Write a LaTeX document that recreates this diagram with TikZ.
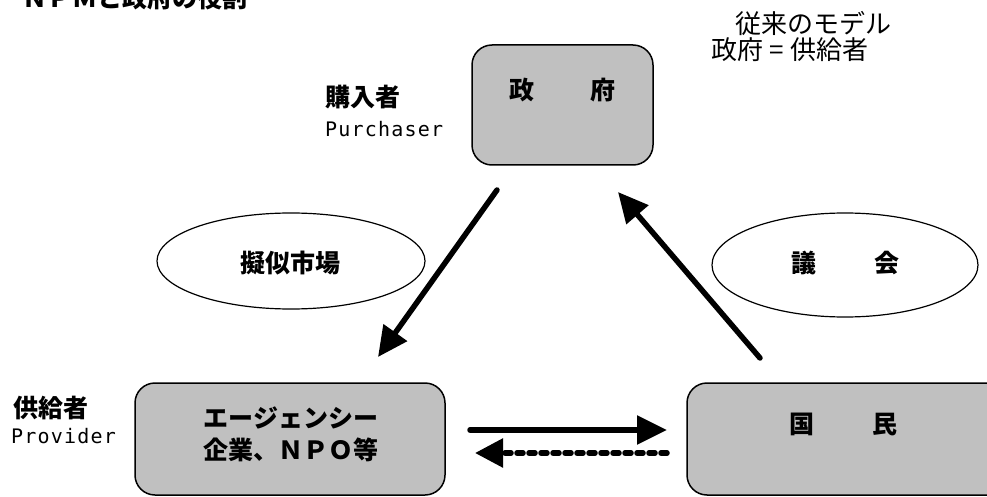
\documentclass[tikz,border=0pt]{standalone}
\usepackage{fontspec}
\usetikzlibrary{arrows.meta,shapes.geometric}
\newfontfamily\jp{Noto Sans CJK JP}
\newfontfamily\lat{DejaVu Sans Mono}[LetterSpace=6]
\definecolor{boxgray}{HTML}{C0C0C0}
\tikzset{
  jpb/.style={font=\jp\bfseries\fontsize{25}{32}\selectfont, inner sep=0pt},
  jpr/.style={font=\jp\fontsize{26}{32}\selectfont, inner sep=0pt},
  latin/.style={font=\lat\fontsize{20}{24}\selectfont, inner sep=0pt},
  actor/.style={draw=black, line width=1.5pt, fill=boxgray, rounded corners=20pt, rectangle, inner sep=0pt},
  oval/.style={draw=black, line width=1.2pt, ellipse, inner sep=0pt},
  bigarrow/.style={line width=5.5pt, line cap=round, -{Triangle[length=30pt,width=28pt]}},
  dasharrow/.style={line width=5.5pt, line cap=round, dash pattern=on 6pt off 6pt, -{Triangle[length=28pt,width=28pt]}}
}
\begin{document}
\begin{tikzpicture}[x=1pt,y=-1pt]
\useasboundingbox (0,0) rectangle (987,497);
\clip (0,0) rectangle (987,497);
% title
\node[jpb, anchor=west] (title) at (22,-2) {ＮＰＭと政府の役割};
% note
\node[jpr] (note1) at (813,24) {従来のモデル};
\node[jpr] (note2) at (790,50) {政府 = 供給者};
% boxes
\node[actor, minimum width=181pt, minimum height=120pt] (gov) at (562.5,105) {};
\node[jpb] (govt) at (562.5,90) {政\hspace{56pt}府};
\node[actor, minimum width=310pt, minimum height=112pt] (prov) at (290,439) {};
\node[jpb, align=center] (provt) at (291,434) {エージェンシー\\企業、ＮＰＯ等};
\node[actor, minimum width=323pt, minimum height=112pt] (cit) at (848.5,439) {};
\node[jpb] (citt) at (843,424) {国\hspace{58pt}民};
% labels
\node[jpb, anchor=west] (purch) at (325,97) {購入者};
\node[latin, anchor=west] (purchen) at (325,129) {Purchaser};
\node[jpb, anchor=west] (supp) at (13,408) {供給者};
\node[latin, anchor=west] (suppen) at (11,436) {Provider};
% ovals
\node[oval, minimum width=268pt, minimum height=96pt] (mkt) at (291,261) {};
\node[jpb] (mktt) at (290,263) {擬似市場};
\node[oval, minimum width=266pt, minimum height=104pt] (parl) at (845,265) {};
\node[jpb] (parlt) at (845,263) {議\hspace{58pt}会};
% arrows
\coordinate (a1s) at (497,190);
\coordinate (a1e) at (378,357);
\coordinate (a2s) at (760,358);
\coordinate (a2e) at (618,192);
\coordinate (a3s) at (470,430);
\coordinate (a3e) at (667,430);
\coordinate (a4s) at (667,453);
\coordinate (a4e) at (475,453);
\draw[bigarrow] (a1s) -- (a1e);
\draw[bigarrow] (a2s) -- (a2e);
\draw[bigarrow] (a3s) -- (a3e);
\draw[dasharrow] (a4s) -- (a4e);
\end{tikzpicture}
\end{document}
